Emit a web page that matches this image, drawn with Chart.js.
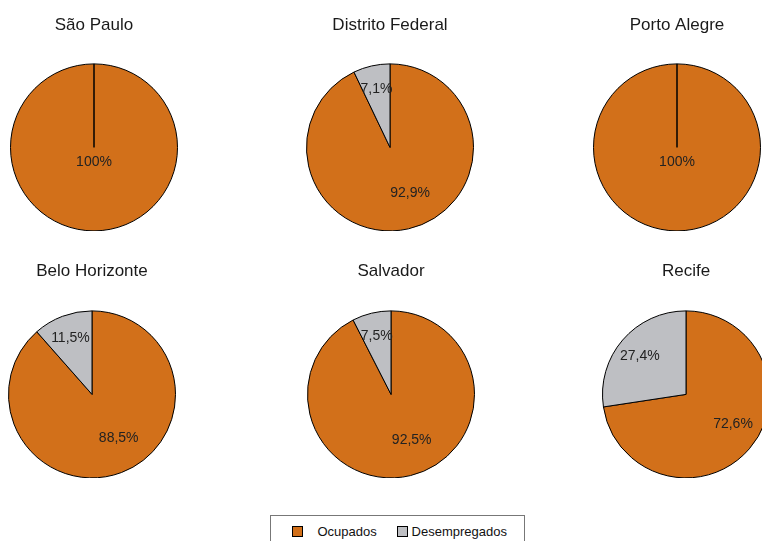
<!DOCTYPE html>
<html>
<head>
<meta charset="utf-8">
<script src="https://cdn.jsdelivr.net/npm/chart.js"></script>
<style>
  html, body { margin: 0; padding: 0; width: 762px; height: 541px; overflow: hidden; background: #fff; }
  body { position: relative; font-family: "Liberation Sans", Arial, sans-serif; }
  .pie { position: absolute; }
  #legend {
    position: absolute; left: 270px; top: 515px; width: 255px; height: 34px;
    border: 1px solid #777; box-sizing: border-box; font-size: 13px; color: #111;
  }
  #legend span.item { position: absolute; top: 8px; white-space: nowrap; }
  #legend i { display: inline-block; width: 9px; height: 9px; border: 1px solid #000; vertical-align: -1px; }
</style>
</head>
<body>
<div class="pie" id="w0"><canvas id="c0"></canvas></div>
<div class="pie" id="w1"><canvas id="c1"></canvas></div>
<div class="pie" id="w2"><canvas id="c2"></canvas></div>
<div class="pie" id="w3"><canvas id="c3"></canvas></div>
<div class="pie" id="w4"><canvas id="c4"></canvas></div>
<div class="pie" id="w5"><canvas id="c5"></canvas></div>
<div id="legend"></div>
<script>
// dados
const cities = ['São Paulo', 'Distrito Federal', 'Porto Alegre', 'Belo Horizonte', 'Salvador', 'Recife']
const seriesNames = ['Ocupados', 'Desempregados']
const ocupados = [100, 92.9, 100, 88.5, 92.5, 72.6]
const desempregados = [0, 7.1, 0, 11.5, 7.5, 27.4]
const colors = ['#d2701a', '#bebfc3']

// posição de cada pizza (centro) na página
const centers = [[94, 147], [390, 147], [677, 147], [92, 394], [391, 394], [686, 394]]

const fmt = v => (v === 100 ? '100' : v.toFixed(1).replace('.', ',')) + '%'

// rótulos dentro das fatias
const sliceLabels = {
  id: 'sliceLabels',
  afterDatasetsDraw (chart) {
    const { ctx } = chart
    const meta = chart.getDatasetMeta(0)
    const values = chart.data.datasets[0].data
    ctx.save()
    ctx.font = '14px "Liberation Sans", Arial, sans-serif'
    ctx.fillStyle = '#222'
    ctx.textAlign = 'center'
    ctx.textBaseline = 'middle'
    meta.data.forEach((arc, i) => {
      const v = values[i]
      if (!v) return
      const { x, y, startAngle, endAngle, outerRadius } = arc.getProps(['x', 'y', 'startAngle', 'endAngle', 'outerRadius'], true)
      if (v === 100) {
        ctx.fillText(fmt(v), x, y + 15)
        return
      }
      const mid = (startAngle + endAngle) / 2
      const big = v >= 50
      const f = big ? 0.6 : 0.73
      const px = x + Math.cos(mid) * outerRadius * f + (big ? 9 : 0)
      const py = y + Math.sin(mid) * outerRadius * f + (big ? -3 : 1)
      ctx.fillText(fmt(v), px, py)
    })
    ctx.restore()
  }
}

const W = 180
const PIE_H = 168
cities.forEach((name, i) => {
  const [cx, cy] = centers[i]
  const row2 = i >= 3
  const titleH = 20.4
  const pad = row2 ? 29 : 28
  const top = cy - PIE_H / 2 - pad - titleH
  const wrap = document.getElementById('w' + i)
  wrap.style.left = (cx - W / 2) + 'px'
  wrap.style.top = top + 'px'
  wrap.style.width = W + 'px'
  wrap.style.height = (PIE_H + pad + titleH) + 'px'

  new Chart(document.getElementById('c' + i), {
    type: 'pie',
    data: {
      labels: seriesNames,
      datasets: [{
        data: [ocupados[i], desempregados[i]],
        backgroundColor: colors,
        borderColor: '#000',
        borderWidth: 1
      }]
    },
    options: {
      responsive: true,
      maintainAspectRatio: false,
      animation: false,
      layout: { padding: 0 },
      plugins: {
        legend: { display: false },
        tooltip: { enabled: false },
        title: {
          display: true,
          text: name,
          color: '#1a1a1a',
          font: { family: '"Liberation Sans", Arial, sans-serif', size: 17, weight: 'normal', lineHeight: 1.2 },
          padding: { top: 0, bottom: pad }
        }
      }
    },
    plugins: [sliceLabels]
  })
})

// legenda
const legend = document.getElementById('legend')
const itemLeft = [21, 126]
seriesNames.forEach((s, k) => {
  const el = document.createElement('span')
  el.className = 'item'
  el.style.left = itemLeft[k] + 'px'
  el.innerHTML = '<i style="background:' + colors[k] + '"></i>' + (k === 0 ? '&nbsp;&nbsp;&nbsp;&nbsp;' : '&nbsp;') + s
  legend.appendChild(el)
})
</script>
</body>
</html>
